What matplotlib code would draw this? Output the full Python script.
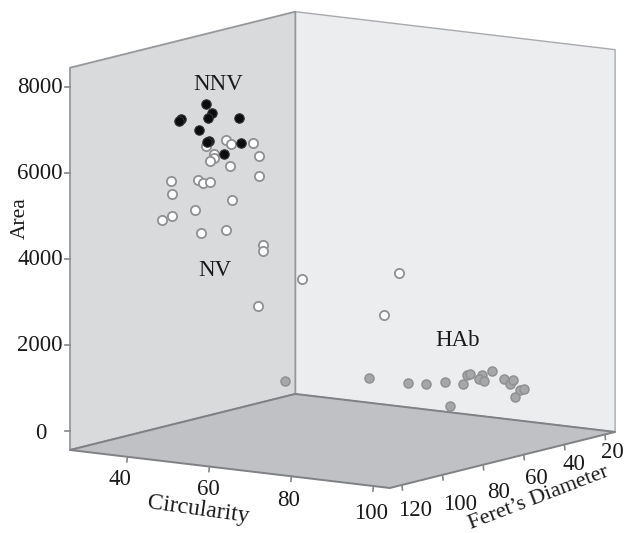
import numpy as np
from matplotlib import pyplot as plt
from matplotlib.patches import Polygon

plt.rcParams["font.family"] = ["Liberation Serif", "DejaVu Serif"]

NNV_CIRC = [46.2, 47.8, 46.8, 40.2, 39.8, 54.3, 44.7, 47.0, 46.5, 54.8, 50.8]
NNV_AREA = [7513, 7336, 7194, 7110, 7059, 7280, 6905, 6675, 6640, 6718, 6402]
NNV_FERET = [100] * 11

NV_CIRC = [46.2, 51.2, 52.3, 57.8, 48.3, 48.2, 47.2, 52.2, 59.3, 59.3, 37.7, 44.3, 45.6, 47.3,
           38.1, 52.6, 43.5, 38.1, 35.6, 45.0, 51.2, 60.2, 60.2, 59.0, 69.7, 93.3, 89.7]
NV_AREA = [6550, 6732, 6652, 6751, 6381, 6287, 6213, 6153, 6452, 5994, 5633, 5724, 5683, 5711,
           5335, 5349, 5018, 4819, 4693, 4506, 4653, 4406, 4267, 2960, 3709, 4130, 3113]
NV_FERET = [100] * 27

HAB_CIRC = [35.9, 56.3, 65.8, 70.2, 74.8, 79.3, 80.2, 80.9, 83.8, 83.2, 84.3, 86.3, 89.3, 90.7,
            91.4, 93.2, 94.2, 91.9, 76.0]
HAB_AREA = [263, 551, 542, 569, 674, 678, 898, 929, 946, 840, 798, 1067, 908, 801, 902, 704,
            738, 526, 137]
HAB_FERET = [40] * 19

AREA_TICKS = [0, 2000, 4000, 6000, 8000]
CIRC_TICKS = [40, 60, 80, 100]
FERET_TICKS = [120, 100, 80, 60, 40, 20]

CIRC_MIN, CIRC_MAX = 26, 104
FERET_MIN, FERET_MAX = 15, 126
AREA_MIN, AREA_MAX = -450, 8440


def project(circ, feret, area):
    """Fixed oblique view of the data box, gives figure pixels"""
    c = np.asarray(circ, dtype=float) - CIRC_MIN
    d = FERET_MAX - np.asarray(feret, dtype=float)
    a = np.asarray(area, dtype=float) - AREA_MIN
    return 70 + 4.1 * c + 2.03 * d, 450 + 0.487 * c - 0.505 * d - 0.043 * a


def wall(ax, corners, color, edge, width):
    xs, ys = project(*np.array(corners).T)
    ax.add_patch(Polygon(np.column_stack([xs, ys]), closed=True, facecolor=color,
                         edgecolor=edge, linewidth=width, joinstyle="round", zorder=1))


fig = plt.figure(figsize=(6.34, 5.33), dpi=100)
ax = fig.add_axes([0, 0, 1, 1])
ax.set_xlim(0, 634)
ax.set_ylim(533, 0)
ax.axis("off")

# left wall, right wall, floor
wall(ax, [(CIRC_MIN, FERET_MIN, AREA_MIN), (CIRC_MAX, FERET_MIN, AREA_MIN),
          (CIRC_MAX, FERET_MIN, AREA_MAX), (CIRC_MIN, FERET_MIN, AREA_MAX)], "#ecedef", "#a9aaad", 1.0)
wall(ax, [(CIRC_MIN, FERET_MAX, AREA_MIN), (CIRC_MIN, FERET_MIN, AREA_MIN),
          (CIRC_MIN, FERET_MIN, AREA_MAX), (CIRC_MIN, FERET_MAX, AREA_MAX)], "#d9dadc", "#97989c", 1.3)
wall(ax, [(CIRC_MIN, FERET_MAX, AREA_MIN), (CIRC_MAX, FERET_MAX, AREA_MIN),
          (CIRC_MAX, FERET_MIN, AREA_MIN), (CIRC_MIN, FERET_MIN, AREA_MIN)], "#c0c1c4", "#808185", 1.4)

tick_font = 16.5
text_color = "#1a1a1a"
tick_color = "#85868a"

for area in AREA_TICKS:
    x, y = project(CIRC_MIN, FERET_MAX, area)
    ax.plot([x - 5, x], [y, y], color=tick_color, lw=1.2, zorder=1)
    # the zero label sits further out in the original
    label_x, label_y = (46, y + 3) if area == 0 else (x - 7, y + 1)
    ax.text(label_x, label_y, str(area), ha="right", va="center", fontsize=tick_font, color=text_color)

circ_offsets = [(-7, 23), (-1, 23), (-3, 24), (-2, 27)]
for circ, (dx, dy) in zip(CIRC_TICKS, circ_offsets):
    x, y = project(circ, FERET_MAX, AREA_MIN)
    ax.plot([x, x - 0.5], [y, y + 5], color=tick_color, lw=1.2, zorder=1)
    ax.text(x + dx, y + dy, str(circ), ha="center", va="center", fontsize=tick_font, color=text_color)

feret_offsets = [(13, 26), (17, 30), (15, 28), (13, 24), (10, 20), (7, 18)]
for feret, (dx, dy) in zip(FERET_TICKS, feret_offsets):
    x, y = project(CIRC_MAX, feret, AREA_MIN)
    ax.plot([x, x + 0.5], [y, y + 5], color=tick_color, lw=1.2, zorder=1)
    ax.text(x + dx, y + dy, str(feret), ha="center", va="center", fontsize=tick_font, color=text_color)

ax.text(20, 218, "Area", rotation=90, ha="center", va="center", fontsize=15.5, color=text_color)
ax.text(198, 510, "Circularity", rotation=-8, ha="center", va="center", fontsize=17,
        color=text_color, rotation_mode="anchor")
ax.text(539, 498, "Feret\u2019s Diameter", rotation=21, ha="center", va="center", fontsize=16,
        color=text_color, rotation_mode="anchor")

x, y = project(HAB_CIRC, HAB_FERET, HAB_AREA)
ax.scatter(x, y, s=42, facecolor="#a6a7a9", edgecolor="#909193", linewidth=1.1, zorder=3)
x, y = project(NV_CIRC, NV_FERET, NV_AREA)
ax.scatter(x, y, s=44, facecolor="white", edgecolor="#8f9092", linewidth=1.3, zorder=3)
x, y = project(NNV_CIRC, NNV_FERET, NNV_AREA)
ax.scatter(x, y, s=46, facecolor="#0c0c0c", edgecolor="#333333", linewidth=0.8, zorder=4)

ax.text(218, 84, "NNV", ha="center", va="center", fontsize=tick_font, color=text_color)
ax.text(215, 271, "NV", ha="center", va="center", fontsize=tick_font, color=text_color)
ax.text(458, 340, "HAb", ha="center", va="center", fontsize=tick_font, color=text_color)

fig.savefig("out.png", dpi=100)
